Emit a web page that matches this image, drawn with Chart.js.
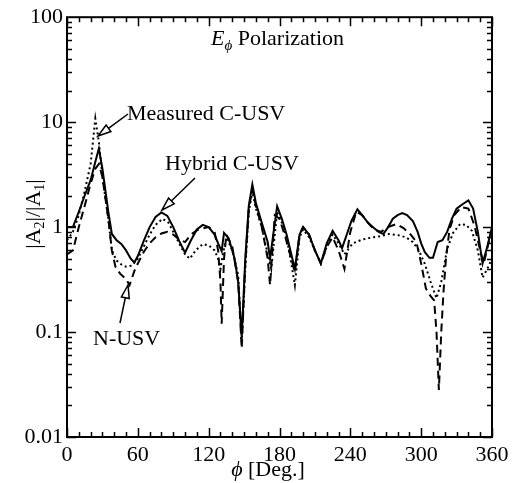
<!DOCTYPE html>
<html>
<head>
<meta charset="utf-8">
<script src="https://cdn.jsdelivr.net/npm/chart.js@4/dist/chart.umd.min.js"></script>
<style>
    html, body { margin: 0; padding: 0; background: #fff; }
    canvas { display: block; }
</style>
</head>
<body>
<canvas id="chart" width="515" height="483"></canvas>
<script>
// [angle (deg), |A2|/|A1|]
const hybridCUSV = [
    [0, 1.0], [5, 1.0], [10, 1.4], [15, 2.0], [20, 2.8], [24, 4.2], [27, 5.6], [30, 3.6], [35, 1.4],
    [38, 0.86], [42, 0.75], [46, 0.69], [50, 0.6], [54, 0.5], [57, 0.46], [60, 0.53], [65, 0.74],
    [70, 1.0], [75, 1.25], [80, 1.38], [85, 1.28], [90, 1.0], [95, 0.74], [100, 0.57], [105, 0.75],
    [110, 0.95], [115, 1.05], [120, 1.0], [125, 0.85], [128, 0.7], [131, 0.59], [133, 0.88], [137, 0.78],
    [142, 0.5], [145, 0.3], [148, 0.09], [151, 0.5], [154, 1.6], [157, 2.55], [160, 1.7], [165, 1.1],
    [170, 0.72], [172, 0.5], [175, 0.9], [178, 1.58], [182, 1.2], [186, 0.85], [190, 0.55], [193, 0.4],
    [197, 0.85], [200, 1.0], [205, 0.85], [210, 0.6], [215, 0.45], [220, 0.7], [225, 0.92], [230, 0.75],
    [233, 0.63], [237, 0.85], [241, 1.15], [246, 1.48], [250, 1.3], [255, 1.1], [260, 0.98], [264, 0.9],
    [268, 0.86], [272, 1.0], [276, 1.2], [280, 1.3], [284, 1.36], [288, 1.3], [293, 1.14], [297, 0.9],
    [300, 0.7], [303, 0.58], [307, 0.51], [310, 0.51], [314, 0.72], [318, 0.75], [322, 0.9], [326, 1.2],
    [330, 1.5], [335, 1.65], [340, 1.8], [344, 1.5], [348, 0.9], [352, 0.45], [356, 0.65], [360, 1.0]
];

const measuredCUSV = [
    [0, 0.75], [5, 0.9], [10, 1.3], [15, 2.2], [20, 4.0], [24, 10.8], [27, 6.5], [30, 3.0], [35, 1.2],
    [38, 0.6], [42, 0.48], [46, 0.44], [50, 0.42], [55, 0.43], [60, 0.5], [65, 0.65], [70, 0.85],
    [75, 1.05], [81, 1.2], [86, 1.1], [90, 0.9], [95, 0.7], [100, 0.55], [104, 0.5], [109, 0.6],
    [115, 0.69], [120, 0.67], [125, 0.6], [128, 0.5], [130, 0.4], [132, 0.55], [135, 0.8], [140, 0.6],
    [145, 0.35], [148, 0.08], [151, 0.4], [154, 1.4], [157, 2.2], [160, 1.5], [165, 1.0], [170, 0.55],
    [173, 0.4], [178, 1.4], [182, 1.1], [186, 0.8], [190, 0.45], [193, 0.28], [197, 0.8], [200, 0.95],
    [205, 0.8], [210, 0.6], [215, 0.45], [220, 0.65], [225, 0.85], [230, 0.7], [235, 0.55], [242, 0.7],
    [250, 0.76], [257, 0.79], [265, 0.82], [273, 0.86], [280, 0.84], [287, 0.8], [293, 0.72], [298, 0.6],
    [303, 0.45], [308, 0.3], [313, 0.21], [317, 0.3], [322, 0.62], [327, 0.88], [333, 1.07], [338, 1.05],
    [343, 0.92], [348, 0.6], [352, 0.33], [356, 0.4], [360, 0.5]
];

const nUSV = [
    [0, 0.55], [5, 0.6], [10, 1.0], [15, 1.6], [20, 2.6], [24, 3.6], [27, 4.0], [30, 3.0], [35, 1.2],
    [38, 0.6], [41, 0.42], [45, 0.36], [50, 0.32], [53, 0.28], [57, 0.38], [60, 0.45], [65, 0.58],
    [70, 0.7], [75, 0.8], [80, 0.87], [85, 0.9], [90, 0.85], [95, 0.76], [100, 0.72], [105, 0.85],
    [110, 0.93], [115, 0.97], [120, 1.0], [125, 0.9], [128, 0.6], [130, 0.3], [131, 0.12], [133, 0.5],
    [135, 0.85], [140, 0.65], [145, 0.3], [148, 0.07], [151, 0.45], [154, 1.5], [157, 2.3], [160, 1.6],
    [165, 1.0], [170, 0.5], [172, 0.28], [176, 1.3], [180, 1.2], [185, 0.8], [190, 0.5], [193, 0.37],
    [197, 0.85], [200, 1.0], [205, 0.85], [210, 0.6], [215, 0.45], [220, 0.65], [225, 0.8], [230, 0.6],
    [235, 0.4], [240, 0.9], [245, 1.4], [250, 1.3], [255, 1.1], [260, 0.95], [266, 0.9], [272, 1.0],
    [279, 1.07], [285, 0.98], [291, 0.85], [296, 0.72], [300, 0.45], [304, 0.26], [308, 0.22], [311, 0.2],
    [313, 0.1], [315, 0.028], [317, 0.1], [319, 0.25], [321, 0.5], [324, 0.95], [328, 1.3], [334, 1.55],
    [340, 1.5], [345, 1.05], [350, 0.6], [353, 0.45], [357, 0.7], [360, 0.9]
];

const yTicks = [0.01, 0.1, 1, 10, 100];
const yTickLabels = ["0.01", "0.1", "1", "10", "100"];
const xMajorStep = 60;
const xMinorStep = 10;

const FONT = "'Liberation Serif', 'Times New Roman', serif";
const fontSize = 22;

function toXY(series) {
    return series.map(function (p) { return { x: p[0], y: p[1] }; });
}

// frame with inward ticks on all four sides
const frameTicks = {
    id: "frameTicks",
    afterDraw: function (chart) {
        const ctx = chart.ctx;
        const a = chart.chartArea;
        const xs = chart.scales.x;
        const ys = chart.scales.y;
        ctx.save();
        ctx.strokeStyle = "#000";
        ctx.lineWidth = 2;
        ctx.strokeRect(a.left, a.top, a.right - a.left, a.bottom - a.top);
        ctx.lineWidth = 1.5;
        ctx.beginPath();
        for (let d = 0; d <= 360; d += xMinorStep) {
            const px = Math.round(xs.getPixelForValue(d)) + 0.5;
            const len = d % xMajorStep === 0 ? 9 : 5;
            ctx.moveTo(px, a.bottom); ctx.lineTo(px, a.bottom - len);
            ctx.moveTo(px, a.top); ctx.lineTo(px, a.top + len);
        }
        for (let e = -2; e <= 1; e++) {
            for (let m = 1; m <= 9; m++) {
                const py = Math.round(ys.getPixelForValue(m * Math.pow(10, e))) + 0.5;
                const len = m === 1 ? 9 : 5;
                ctx.moveTo(a.left, py); ctx.lineTo(a.left + len, py);
                ctx.moveTo(a.right, py); ctx.lineTo(a.right - len, py);
            }
        }
        ctx.stroke();
        ctx.restore();
    }
};

function arrow(ctx, x1, y1, x2, y2) {
    const ang = Math.atan2(y2 - y1, x2 - x1);
    const L = 13, W = 4;
    const bx = x2 - L * Math.cos(ang), by = y2 - L * Math.sin(ang);
    ctx.save();
    ctx.beginPath();
    ctx.moveTo(x1, y1);
    ctx.lineTo(bx, by);
    ctx.stroke();
    ctx.beginPath();
    ctx.moveTo(x2, y2);
    ctx.lineTo(bx + W * Math.sin(ang), by - W * Math.cos(ang));
    ctx.lineTo(bx - W * Math.sin(ang), by + W * Math.cos(ang));
    ctx.closePath();
    ctx.fillStyle = "#fff";
    ctx.fill();
    ctx.stroke();
    ctx.restore();
}

// labels, arrows, title and axis titles
const annotations = {
    id: "annotations",
    afterDraw: function (chart) {
        const ctx = chart.ctx;
        ctx.save();
        ctx.fillStyle = "#000";
        ctx.strokeStyle = "#000";
        ctx.textBaseline = "alphabetic";
        ctx.textAlign = "left";

        // E_phi Polarization
        ctx.font = "italic " + fontSize + "px " + FONT;
        ctx.fillText("E", 211, 45);
        const w = ctx.measureText("E").width;
        ctx.font = "italic 15px " + FONT;
        ctx.fillText("\u03D5", 211 + w, 50);
        const w2 = ctx.measureText("\u03D5").width;
        ctx.font = fontSize + "px " + FONT;
        ctx.fillText(" Polarization", 211 + w + w2, 45);

        ctx.fillText("Measured C-USV", 127, 120);
        ctx.fillText("Hybrid C-USV", 165, 170);
        ctx.fillText("N-USV", 93, 345);

        ctx.lineWidth = 1.5;
        arrow(ctx, 128, 114, 98, 136);
        arrow(ctx, 195, 178, 162, 210);
        arrow(ctx, 120, 323, 128, 285);

        // x title
        ctx.font = "italic " + fontSize + "px " + FONT;
        const phiW = ctx.measureText("\u03D5").width;
        ctx.font = fontSize + "px " + FONT;
        const restW = ctx.measureText(" [Deg.]").width;
        const x0 = 268 - (phiW + restW) / 2;
        ctx.font = "italic " + fontSize + "px " + FONT;
        ctx.fillText("\u03D5", x0, 476);
        ctx.font = fontSize + "px " + FONT;
        ctx.fillText(" [Deg.]", x0 + phiW, 476);

        // y title |A2|/|A1|
        ctx.translate(40, 214);
        ctx.rotate(-Math.PI / 2);
        const parts = [["|A", fontSize, 0], ["2", 14, 4], ["|/|A", fontSize, 0], ["1", 14, 4], ["|", fontSize, 0]];
        let total = 0;
        parts.forEach(function (p) { ctx.font = p[1] + "px " + FONT; total += ctx.measureText(p[0]).width; });
        let cx = -total / 2;
        parts.forEach(function (p) {
            ctx.font = p[1] + "px " + FONT;
            ctx.fillText(p[0], cx, p[2]);
            cx += ctx.measureText(p[0]).width;
        });
        ctx.restore();
    }
};

new Chart(document.getElementById("chart"), {
    type: "line",
    data: {
        datasets: [
            {
                label: "Hybrid C-USV",
                data: toXY(hybridCUSV),
                borderColor: "#000",
                borderWidth: 2,
                pointRadius: 0,
                tension: 0,
            },
            {
                label: "Measured C-USV",
                data: toXY(measuredCUSV),
                borderColor: "#000",
                borderWidth: 2,
                borderDash: [2, 3],
                pointRadius: 0,
                tension: 0,
            },
            {
                label: "N-USV",
                data: toXY(nUSV),
                borderColor: "#000",
                borderWidth: 2,
                borderDash: [8, 5],
                pointRadius: 0,
                tension: 0,
            },
        ],
    },
    options: {
        responsive: false,
        animation: false,
        layout: { padding: { left: 0, top: 15, right: 23, bottom: 0 } },
        plugins: {
            legend: { display: false },
            tooltip: { enabled: false },
        },
        scales: {
            x: {
                type: "linear",
                min: 0,
                max: 360,
                grid: { display: false, drawTicks: false },
                border: { display: false },
                ticks: {
                    stepSize: xMajorStep,
                    color: "#000",
                    font: { family: FONT, size: fontSize },
                    padding: 5,
                    maxRotation: 0,
                },
                afterFit: function (s) { s.height = 46; },
            },
            y: {
                type: "logarithmic",
                min: 0.01,
                max: 100,
                grid: { display: false, drawTicks: false },
                border: { display: false },
                afterBuildTicks: function (s) {
                    s.ticks = yTicks.map(function (v) { return { value: v }; });
                },
                ticks: {
                    color: "#000",
                    font: { family: FONT, size: fontSize },
                    padding: 4,
                    callback: function (v) {
                        const i = yTicks.indexOf(v);
                        return i >= 0 ? yTickLabels[i] : "";
                    },
                },
                afterFit: function (s) { s.width = 67; },
            },
        },
    },
    plugins: [frameTicks, annotations],
});
</script>
</body>
</html>
